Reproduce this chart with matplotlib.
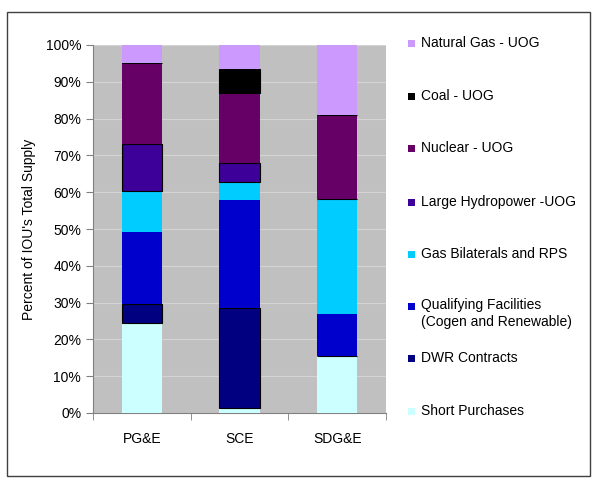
import matplotlib.pyplot as plt
import numpy as np
from matplotlib.patches import Rectangle

plt.rcParams['font.family'] = ['Liberation Sans', 'DejaVu Sans']

utilities = ["PG&E", "SCE", "SDG&E"]
# bottom to top
sources = ["Short Purchases", "DWR Contracts",
           "Qualifying Facilities\n(Cogen and Renewable)",
           "Gas Bilaterals and RPS", "Large Hydropower -UOG",
           "Nuclear - UOG", "Coal - UOG", "Natural Gas - UOG"]
short_purchases = [24.4, 1.3, 15.5]
dwr_contracts = [5.2, 27.3, 0.0]
qualifying_fac = [19.7, 29.3, 11.5]
gas_bilaterals = [10.9, 4.8, 31.2]
large_hydro = [13.0, 5.2, 0.0]
nuclear = [21.9, 19.1, 22.9]
coal = [0.0, 6.4, 0.0]
natural_gas = [4.9, 6.6, 18.9]
values = [short_purchases, dwr_contracts, qualifying_fac, gas_bilaterals,
          large_hydro, nuclear, coal, natural_gas]
colors = ["#CCFFFF", "#000080", "#0000CC", "#00CCFF", "#3D0099",
          "#660066", "#000000", "#CC99FF"]
edges = [False, True, False, False, True, False, True, False]

fig = plt.figure(figsize=(6, 4.8), dpi=100)
ax = fig.add_axes([93/600, 1 - 413/480, (386 - 93)/600, (413 - 45)/480])
ax.set_facecolor("#C0C0C0")

x = np.arange(len(utilities))
bottom = np.zeros(len(utilities))
for vals, c, e in zip(values, colors, edges):
    vals = np.array(vals)
    ax.bar(x, vals, 0.415, bottom=bottom, color=c,
           edgecolor="black" if e else c, linewidth=0.8 if e else 0, zorder=3)
    bottom += vals

ax.set_xlim(-0.5, 2.5)
ax.set_ylim(0, 100)
ax.set_yticks(np.arange(0, 101, 10))
ax.set_yticklabels([f"{v}%" for v in range(0, 101, 10)], fontsize=10)
ax.set_xticks(x)
ax.set_xticklabels(utilities, fontsize=10)
ax.set_xticks([-0.5, 0.5, 1.5, 2.5], minor=True)
ax.tick_params(axis='x', which='major', length=0, pad=14)
ax.tick_params(axis='x', which='minor', length=5, color="#808080")
ax.tick_params(axis='y', length=5, color="#808080")
ax.yaxis.grid(True, color="#D4D4D4", linewidth=0.8, zorder=0)
ax.set_axisbelow(True)
for s in ["top", "right"]:
    ax.spines[s].set_visible(False)
for s in ["left", "bottom"]:
    ax.spines[s].set_color("#808080")
ax.set_ylabel("Percent of IOU's Total Supply", fontsize=10, labelpad=7)

# legend, top to bottom
leg_y = [43, 96, 148, 202, 254, 306, 358, 411]
for i, yy in enumerate(leg_y):
    k = len(sources) - 1 - i
    fig.patches.append(Rectangle((408/600, 1 - (yy + 3.5)/480), 7/600, 7/480,
                                 transform=fig.transFigure,
                                 facecolor=colors[k], edgecolor="none"))
    if "\n" in sources[k]:
        fig.text(421/600, 1 - (yy - 8)/480, sources[k], fontsize=10,
                 va="top", ha="left", linespacing=1.25)
    else:
        fig.text(421/600, 1 - yy/480, sources[k], fontsize=10,
                 va="center", ha="left")

fig.patches.append(Rectangle((7/600, 1 - 476/480), 583/600, 464/480,
                             transform=fig.transFigure, facecolor="none",
                             edgecolor="#404040", linewidth=1))

plt.savefig("out.png", dpi=100)
